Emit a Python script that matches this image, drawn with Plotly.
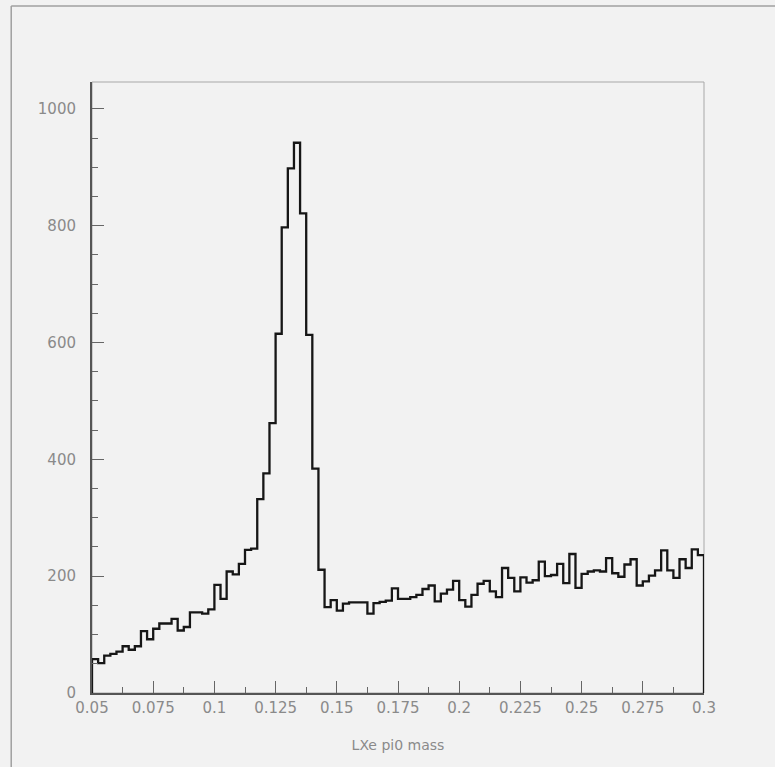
import plotly.graph_objects as go

# Histogram definition
bin_lo = 0.05
bin_width = 0.0025
counts = [
    58, 51, 64, 67, 71, 80, 74, 80, 106, 92,
    110, 119, 119, 127, 107, 113, 138, 138, 136, 143,
    185, 161, 208, 203, 221, 245, 247, 332, 376, 462,
    615, 797, 898, 942, 821, 613, 384, 211, 147, 159,
    141, 153, 155, 155, 155, 136, 154, 156, 158, 179,
    161, 161, 164, 168, 178, 184, 157, 170, 177, 192,
    159, 148, 168, 187, 192, 174, 164, 214, 197, 174,
    198, 189, 193, 225, 200, 202, 221, 188, 238, 180,
    204, 208, 210, 208, 231, 205, 199, 220, 229, 184,
    191, 201, 210, 244, 210, 197, 229, 214, 246, 236,
]
x_ticks = [0.05, 0.075, 0.1, 0.125, 0.15, 0.175, 0.2, 0.225, 0.25, 0.275, 0.3]
x_tick_text = ["0.05", "0.075", "0.1", "0.125", "0.15", "0.175", "0.2", "0.225", "0.25", "0.275", "0.3"]
y_ticks = [0, 200, 400, 600, 800, 1000]
x_title = "LXe pi0 mass"

n = len(counts)
edges = [bin_lo + bin_width * i for i in range(n + 1)]
xs = [edges[0]] + edges[:n] + [edges[n], edges[n]]
ys = [0] + counts + [counts[-1], 0]

fig = go.Figure()
fig.add_trace(go.Scatter(
    x=xs, y=ys, mode="lines", line=dict(shape="hv", color="#161616", width=2.3),
    hoverinfo="skip", showlegend=False,
))

font = dict(family="DejaVu Sans", size=15, color="#8a8a8a")

fig.update_layout(
    width=775, height=767,
    margin=dict(l=92, r=71, t=82, b=74),
    paper_bgcolor="#f2f2f2", plot_bgcolor="#f2f2f2",
    font=font,
    showlegend=False,
    shapes=[
        # plot frame (top/right)
        dict(type="rect", xref="paper", yref="paper", x0=0, x1=1, y0=0, y1=1,
             line=dict(color="#a8a8a8", width=1), layer="below"),
        # outer canvas frame
        dict(type="line", xref="paper", yref="paper", x0=-0.132, x1=1.2, y0=1.1244, y1=1.1244,
             line=dict(color="#a0a0a0", width=1.5)),
        dict(type="line", xref="paper", yref="paper", x0=-0.132, x1=-0.132, y0=1.1244, y1=-0.2,
             line=dict(color="#a0a0a0", width=1.5)),
    ],
)

fig.update_xaxes(
    range=[0.05, 0.3], tickmode="array", tickvals=x_ticks, ticktext=x_tick_text,
    ticks="inside", ticklen=12, tickwidth=1, tickcolor="#666666",
    minor=dict(dtick=0.0125, tick0=0.05, ticks="inside", ticklen=6, tickcolor="#666666", showgrid=False),
    showline=True, linecolor="#555555", linewidth=2,
    showgrid=False, zeroline=False,
    title=dict(text=x_title, font=dict(family="DejaVu Sans", size=14, color="#8a8a8a"), standoff=24),
    tickfont=font, ticklabelstandoff=0,
)
fig.update_yaxes(
    range=[0, 1046], tickmode="array", tickvals=y_ticks,
    ticks="inside", ticklen=12, tickwidth=1, tickcolor="#666666",
    minor=dict(dtick=50, tick0=0, ticks="inside", ticklen=6, tickcolor="#666666", showgrid=False),
    showline=True, linecolor="#555555", linewidth=2,
    showgrid=False, zeroline=False,
    tickfont=font, ticklabelstandoff=11,
)

fig.write_html(
    "out.html",
    config={"displayModeBar": False},
    post_script="document.body.style.margin='0px';document.body.style.background='#f2f2f2';",
)
